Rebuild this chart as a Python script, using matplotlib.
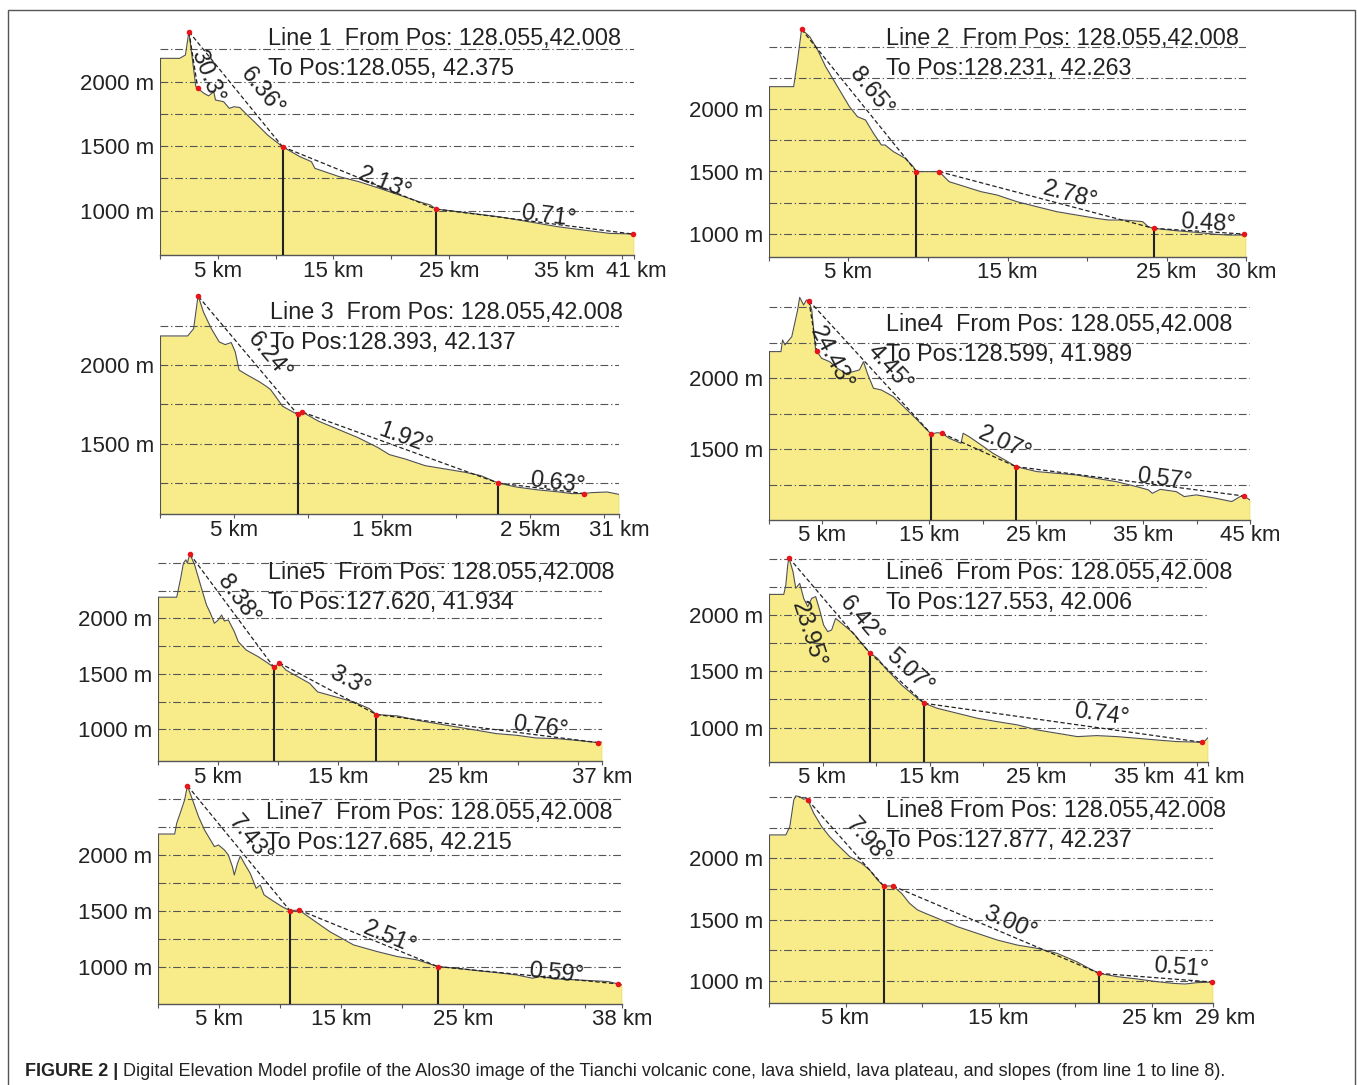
import numpy as np
import matplotlib
matplotlib.use("Agg")
import matplotlib.pyplot as plt
import matplotlib.transforms as mtransforms
from matplotlib.patches import Rectangle

plt.rcParams['font.family'] = ['Liberation Sans', 'DejaVu Sans']

W, H, DPI = 1357, 1085, 100

# ---------------- data (km, m) ----------------
# Line 1
line1_km = [0, 1.7, 2.2, 2.5, 3.1, 3.27, 3.8, 4.2, 4.65, 4.8, 5.5, 6.0, 6.4, 6.9, 7.4, 8.3, 9.3, 10.6,
            12.1, 13.1, 13.4, 14.0, 15.5, 17.2, 19.0, 20.7, 22.4, 23.4, 23.85, 25.8, 29.3, 31.0, 32.7,
            34.4, 36.2, 38.9, 41]
line1_m = [2181, 2181, 2207, 2388, 1961, 1948, 1910, 1890, 1922, 1858, 1845, 1793, 1806, 1800, 1755, 1677,
           1587, 1496, 1419, 1380, 1328, 1310, 1264, 1225, 1173, 1121, 1070, 1044, 1013, 992, 953, 928,
           902, 876, 855, 824, 819]
line1_pt_km = [2.5, 3.27, 10.6, 23.85, 40.9]
line1_pt_m = [2388, 1948, 1496, 1013, 819]
line1_segs = [(0, 1), (0, 2), (2, 3), (3, 4)]
line1_deg = ["30.3°", "6.36°", "2.13°", "0.71°"]
line1_deg_km = [4.03, 8.79, 19.47, 33.6]
line1_deg_m = [2044, 1922, 1212, 953]
line1_vl = [2, 3]
line1_xt = [5, 15, 25, 35, 41]
line1_xtl = ["5 km", "15 km", "25 km", "35 km", "41 km"]
line1_yt = [2000, 1500, 1000]

# Line 2
line2_km = [0, 1.55, 1.8, 2.05, 2.56, 3.06, 3.56, 4.31, 5.06, 5.56, 6.07, 6.57, 7.07, 7.3, 7.82, 8.57, 9.07,
            9.27, 10.7, 11.33, 12.33, 13.33, 14.34, 15.6, 16.84, 18.1, 19.35, 20.6, 21.35, 22.35, 23.5,
            23.86, 24.19, 25.6, 26.87, 28.1, 28.9, 30]
line2_m = [2182, 2182, 2397, 2643, 2584, 2477, 2343, 2182, 2021, 1941, 1914, 1807, 1713, 1713, 1660, 1606,
           1539, 1499, 1499, 1418, 1378, 1338, 1311, 1257, 1217, 1177, 1150, 1123, 1110, 1110, 1097, 1056,
           1043, 1024, 1011, 995, 989, 989]
line2_pt_km = [2.05, 9.27, 10.7, 24.19, 29.9]
line2_pt_m = [2643, 1499, 1499, 1043, 997]
line2_segs = [(0, 1), (2, 3), (3, 4)]
line2_deg = ["8.65°", "2.78°", "0.48°"]
line2_deg_km = [6.44, 18.97, 27.6]
line2_deg_m = [2142, 1311, 1083]
line2_vl = [1, 3]
line2_xt = [5, 15, 25, 30]
line2_xtl = ["5 km", "15 km", "25 km", "30 km"]
line2_yt = [2000, 1500, 1000]

# Line 3
line3_km = [0, 1.87, 2.27, 2.54, 2.59, 2.94, 3.47, 4.0, 4.4, 4.81, 5.08, 5.34, 5.88, 6.68, 7.2, 7.48, 7.88,
            8.28, 9.09, 9.3, 9.62, 10.69, 12.03, 13.36, 14.7, 15.5, 16.57, 17.9, 19.24, 20.58, 21.65,
            22.18, 22.85, 24.05, 25.39, 26.99, 27.8, 28.65, 29.13, 30.2, 31]
line3_m = [2185, 2185, 2231, 2420, 2437, 2336, 2231, 2147, 2130, 2143, 2084, 1968, 1937, 1895, 1863, 1842,
           1790, 1737, 1695, 1685, 1700, 1643, 1590, 1538, 1475, 1429, 1401, 1359, 1338, 1317, 1296, 1275,
           1248, 1223, 1206, 1191, 1181, 1181, 1187, 1191, 1176]
line3_pt_km = [2.59, 9.3, 9.62, 22.85, 28.65]
line3_pt_m = [2437, 1685, 1700, 1248, 1181]
line3_segs = [(0, 1), (2, 3), (3, 4)]
line3_deg = ["6.24°", "1.92°", "0.63°"]
line3_deg_km = [7.35, 16.57, 26.86]
line3_deg_m = [2053, 1527, 1244]
line3_vl = [1, 3]
line3_xt = [5, 15, 25, 31]
line3_xtl = ["5 km", "1 5km", "2 5km", "31 km"]
line3_yt = [2000, 1500]

# Line 4
line4_km = [0, 1.12, 1.27, 1.49, 2.13, 2.68, 2.87, 3.24, 3.5, 3.73, 4.0, 4.36, 4.47, 4.92, 5.67, 6.41,
            7.16, 7.9, 8.46, 8.84, 9.2, 9.77, 10.51, 11.63, 12.75, 13.87, 14.62, 15.18, 15.73, 16.18,
            16.85, 17.97, 18.16, 18.72, 19.84, 20.95, 22.07, 23.1, 25.05, 28.78, 32.5, 34.4, 35.5, 35.87,
            36.6, 38.1, 38.85, 39.97, 41.8, 43.3, 44.07, 44.44, 45]
line4_m = [2188, 2188, 2270, 2235, 2293, 2481, 2570, 2516, 2551, 2547, 2481, 2200, 2192, 2141, 2117, 2070,
           2035, 2047, 2059, 2117, 2035, 1930, 1918, 1871, 1789, 1707, 1648, 1608, 1617, 1613, 1578, 1542,
           1613, 1589, 1531, 1472, 1425, 1378, 1343, 1319, 1272, 1237, 1214, 1190, 1218, 1202, 1167, 1179,
           1155, 1132, 1167, 1171, 1143]
line4_pt_km = [3.73, 4.47, 15.18, 16.18, 23.1, 44.44]
line4_pt_m = [2547, 2192, 1608, 1613, 1378, 1171]
line4_segs = [(0, 1), (0, 2), (3, 4), (4, 5)]
line4_deg = ["24.43°", "4.45°", "2.07°", "0.57°"]
line4_deg_km = [5.85, 11.26, 22.07, 37.0]
line4_deg_m = [2141, 2070, 1538, 1284]
line4_vl = [2, 4]
line4_xt = [5, 15, 25, 35, 45]
line4_xtl = ["5 km", "15 km", "25 km", "35 km", "45 km"]
line4_yt = [2000, 1500]

# Line 5
line5_km = [0, 1.56, 1.89, 2.12, 2.32, 2.45, 2.65, 3.05, 3.54, 4.04, 4.37, 4.7, 5.03, 5.3, 5.53, 5.86,
            6.36, 6.69, 7.35, 8.35, 9.0, 9.67, 10.1, 10.67, 11.66, 12.65, 13.3, 14.3, 15.3, 16.3, 16.96,
            17.6, 18.2, 19.94, 21.6, 23.25, 24.9, 26.57, 28.2, 29.9, 31.5, 33.2, 34.8, 36.16, 36.67, 37]
line5_m = [2190, 2190, 2361, 2497, 2527, 2497, 2581, 2482, 2301, 2120, 2045, 1955, 1985, 2030, 1976, 1985,
           1880, 1789, 1714, 1654, 1608, 1557, 1599, 1533, 1473, 1413, 1337, 1307, 1277, 1247, 1217, 1187,
           1133, 1121, 1081, 1051, 1021, 991, 961, 946, 922, 916, 901, 886, 880, 886]
line5_pt_km = [2.65, 9.67, 10.1, 18.2, 36.67]
line5_pt_m = [2581, 1557, 1599, 1133, 880]
line5_segs = [(0, 1), (2, 3), (3, 4)]
line5_deg = ["8.38°", "3.3°", "0.76°"]
line5_deg_km = [6.69, 15.97, 31.86]
line5_deg_m = [2166, 1428, 1012]
line5_vl = [1, 3]
line5_xt = [5, 15, 25, 37]
line5_xtl = ["5 km", "15 km", "25 km", "37 km"]
line5_yt = [2000, 1500, 1000]

# Line 6
line6_km = [0, 1.38, 1.57, 1.75, 1.86, 2.24, 2.5, 2.87, 3.24, 3.62, 3.99, 4.36, 4.73, 5.1, 5.48, 5.85,
            6.22, 6.6, 7.16, 7.9, 8.65, 9.39, 10.14, 10.88, 11.63, 12.37, 13.12, 13.87, 14.5, 15.73, 17.6,
            19.46, 21.3, 23.2, 25.05, 26.9, 28.8, 30.6, 32.5, 34.4, 36.2, 38.1, 40.4, 40.7, 41]
line6_m = [2183, 2183, 2266, 2444, 2509, 2385, 2237, 2281, 2148, 2074, 2148, 2163, 2044, 1911, 1852, 1867,
           1970, 1941, 1896, 1837, 1748, 1666, 1615, 1527, 1453, 1379, 1319, 1260, 1216, 1171, 1127, 1083,
           1053, 1024, 979, 950, 920, 929, 920, 905, 890, 876, 870, 881, 911]
line6_pt_km = [1.86, 9.39, 14.5, 40.4]
line6_pt_m = [2509, 1666, 1216, 870]
line6_segs = [(0, 1), (1, 2), (2, 3)]
line6_deg = ["23.95°", "6.42°", "5.07°", "0.74°"]
line6_deg_km = [3.69, 8.65, 13.12, 31.0]
line6_deg_m = [1828, 1956, 1497, 1112]
line6_vl = [1, 2]
line6_xt = [5, 15, 25, 35, 41]
line6_xtl = ["5 km", "15 km", "25 km", "35 km", "41 km"]
line6_yt = [2000, 1500, 1000]

# Line 7
line7_km = [0, 1.37, 1.53, 1.86, 2.18, 2.41, 2.83, 3.32, 3.81, 4.3, 4.62, 4.95, 5.44, 5.76, 6.09, 6.25,
            6.51, 6.74, 7.07, 7.55, 8.04, 8.37, 8.69, 9.51, 10.16, 10.81, 11.56, 12.11, 13.09, 14.07, 15.04,
            16.02, 17.0, 17.97, 19.6, 21.23, 22.92, 24.49, 26.1, 27.74, 29.37, 30.67, 31.3, 32.6, 34.26,
            35.88, 36.86, 37.67, 38]
line7_m = [2188, 2188, 2284, 2388, 2493, 2621, 2493, 2343, 2224, 2134, 2075, 2090, 2045, 2000, 1896, 1821,
           1925, 1991, 1925, 1836, 1701, 1731, 1642, 1582, 1537, 1501, 1507, 1463, 1388, 1313, 1254, 1194,
           1164, 1134, 1090, 1060, 1000, 985, 964, 946, 925, 896, 910, 890, 881, 872, 866, 845, 836]
line7_pt_km = [2.41, 10.81, 11.56, 22.92, 37.67]
line7_pt_m = [2621, 1501, 1507, 1000, 845]
line7_segs = [(0, 1), (2, 3), (3, 4)]
line7_deg = ["7.43°", "2.51°", "0.59°"]
line7_deg_km = [7.55, 18.95, 32.63]
line7_deg_m = [2134, 1254, 940]
line7_vl = [1, 3]
line7_xt = [5, 15, 25, 38]
line7_xtl = ["5 km", "15 km", "25 km", "38 km"]
line7_yt = [2000, 1500, 1000]

# Line 8
line8_km = [0, 1.1, 1.36, 1.62, 1.75, 2.0, 2.27, 2.45, 2.53, 2.92, 3.44, 3.96, 4.49, 5.27, 6.05, 6.57,
            7.09, 7.49, 8.09, 8.66, 9.18, 9.7, 10.22, 11.0, 12.31, 13.6, 14.92, 16.22, 17.53, 18.83, 20.1,
            20.9, 21.57, 22.74, 24.05, 25.35, 26.4, 27.18, 27.96, 28.95, 29]
line8_m = [2191, 2191, 2259, 2477, 2510, 2504, 2482, 2490, 2477, 2368, 2259, 2177, 2109, 2014, 1959, 1905,
           1823, 1774, 1774, 1714, 1632, 1578, 1550, 1510, 1441, 1387, 1332, 1291, 1264, 1223, 1155, 1101,
           1060, 1033, 1014, 992, 978, 973, 984, 989, 989]
line8_pt_km = [2.53, 7.49, 8.09, 21.57, 28.95]
line8_pt_m = [2477, 1774, 1774, 1060, 989]
line8_segs = [(0, 1), (2, 3), (3, 4)]
line8_deg = ["7.98°", "3.00°", "0.51°"]
line8_deg_km = [6.44, 15.7, 26.92]
line8_deg_m = [2136, 1469, 1101]
line8_vl = [1, 3]
line8_xt = [5, 15, 25, 29]
line8_xtl = ["5 km", "15 km", "25 km", "29 km"]
line8_yt = [2000, 1500, 1000]

titles = [
    ("Line 1  From Pos: 128.055,42.008", "To Pos:128.055, 42.375"),
    ("Line 2  From Pos: 128.055,42.008", "To Pos:128.231, 42.263"),
    ("Line 3  From Pos: 128.055,42.008", "To Pos:128.393, 42.137"),
    ("Line4  From Pos: 128.055,42.008", "To Pos:128.599, 41.989"),
    ("Line5  From Pos: 128.055,42.008", "To Pos:127.620, 41.934"),
    ("Line6  From Pos: 128.055,42.008", "To Pos:127.553, 42.006"),
    ("Line7  From Pos: 128.055,42.008", "To Pos:127.685, 42.215"),
    ("Line8 From Pos: 128.055,42.008", "To Pos:127.877, 42.237"),
]
caption_bold = "FIGURE 2 |"
caption_text = (" Digital Elevation Model profile of the Alos30 image of the Tianchi volcanic cone, "
                "lava shield, lava plateau, and slopes (from line 1 to line 8).")

lines = [
    dict(km=line1_km, m=line1_m, pk=line1_pt_km, pm=line1_pt_m, segs=line1_segs, deg=line1_deg,
         dk=line1_deg_km, dm=line1_deg_m, vl=line1_vl, xt=line1_xt, xtl=line1_xtl, yt=line1_yt),
    dict(km=line2_km, m=line2_m, pk=line2_pt_km, pm=line2_pt_m, segs=line2_segs, deg=line2_deg,
         dk=line2_deg_km, dm=line2_deg_m, vl=line2_vl, xt=line2_xt, xtl=line2_xtl, yt=line2_yt),
    dict(km=line3_km, m=line3_m, pk=line3_pt_km, pm=line3_pt_m, segs=line3_segs, deg=line3_deg,
         dk=line3_deg_km, dm=line3_deg_m, vl=line3_vl, xt=line3_xt, xtl=line3_xtl, yt=line3_yt),
    dict(km=line4_km, m=line4_m, pk=line4_pt_km, pm=line4_pt_m, segs=line4_segs, deg=line4_deg,
         dk=line4_deg_km, dm=line4_deg_m, vl=line4_vl, xt=line4_xt, xtl=line4_xtl, yt=line4_yt),
    dict(km=line5_km, m=line5_m, pk=line5_pt_km, pm=line5_pt_m, segs=line5_segs, deg=line5_deg,
         dk=line5_deg_km, dm=line5_deg_m, vl=line5_vl, xt=line5_xt, xtl=line5_xtl, yt=line5_yt),
    dict(km=line6_km, m=line6_m, pk=line6_pt_km, pm=line6_pt_m, segs=line6_segs, deg=line6_deg,
         dk=line6_deg_km, dm=line6_deg_m, vl=line6_vl, xt=line6_xt, xtl=line6_xtl, yt=line6_yt),
    dict(km=line7_km, m=line7_m, pk=line7_pt_km, pm=line7_pt_m, segs=line7_segs, deg=line7_deg,
         dk=line7_deg_km, dm=line7_deg_m, vl=line7_vl, xt=line7_xt, xtl=line7_xtl, yt=line7_yt),
    dict(km=line8_km, m=line8_m, pk=line8_pt_km, pm=line8_pt_m, segs=line8_segs, deg=line8_deg,
         dk=line8_deg_km, dm=line8_deg_m, vl=line8_vl, xt=line8_xt, xtl=line8_xtl, yt=line8_yt),
]

# layout in pixels: left, right, y of 2000 m, px per 500 m, ymin, ymax, title x, title y
layout = [
    (160, 634, 81.7, 64.5, 655, 2420, 268, 38),
    (769, 1246, 109.3, 62.2, 815, 2680, 886, 38),
    (160, 619, 365.0, 78.5, 1050, 2470, 270, 312),
    (769, 1250, 378.3, 71.0, 1005, 2600, 886, 324),
    (158, 602, 618.3, 55.5, 711, 2610, 268, 573),
    (769, 1208, 615.0, 56.3, 698, 2540, 886, 572),
    (158, 622, 855.0, 55.8, 666, 2650, 266, 812),
    (769, 1213, 858.3, 61.2, 820, 2540, 886, 811),
]
# last x label nudged right (px), as in the original
last_shift = [2, 0, 0, 0, 0, 6, 0, 12]
# text angle overrides (screen degrees) for labels without a dashed guide
rot_override = {(0, 0): -68, (3, 0): -62, (5, 0): -72}

FILL = "#f8ec8a"
GRID = "#555555"
EDGE = "#505050"
FS = 16

fig = plt.figure(figsize=(W / DPI, H / DPI), dpi=DPI)
fig.patches.append(Rectangle((8 / W, -0.01), (1355 - 8) / W, 1 - 10 / H + 0.01,
                             transform=fig.transFigure, fill=False, ec="#555555", lw=1.0))

for i, (d, lay) in enumerate(zip(lines, layout)):
    left, right, y2k, pp, ymin, ymax, tx, ty = lay
    top = y2k - (ymax - 2000) / 500 * pp
    bot = y2k + (2000 - ymin) / 500 * pp
    ax = fig.add_axes([left / W, 1 - bot / H, (right - left) / W, (bot - top) / H])
    ax.patch.set_alpha(0)
    xmax = d["km"][-1]
    ax.set_xlim(0, xmax)
    ax.set_ylim(ymin, ymax)

    km = np.array(d["km"])
    m = np.array(d["m"])
    ax.fill_between(km, ymin, m, color=FILL, lw=0, zorder=1)
    ax.plot(km, m, color=EDGE, lw=0.8, zorder=3)
    ax.plot([0, 0], [ymin, m[0]], color=EDGE, lw=0.8, zorder=3)
    ax.plot([xmax, xmax], [ymin, m[-1]], color=EDGE, lw=0.8, zorder=3)

    # dash-dot grid every 250 m (1000 m and above)
    for g in np.arange(1000, 3000, 250):
        if ymin < g < ymax:
            ax.axhline(g, color=GRID, lw=0.8, ls=(0, (7, 2.5, 1.2, 2.5)), zorder=2)

    pk, pm = d["pk"], d["pm"]
    for j in d["vl"]:
        ax.plot([pk[j], pk[j]], [ymin, pm[j]], color="#222222", lw=1.5, zorder=4)
    for a, b in d["segs"]:
        ax.plot([pk[a], pk[b]], [pm[a], pm[b]], color="#222222", lw=0.9,
                ls=(0, (3.5, 2)), zorder=5)
    ax.plot(pk, pm, "o", color="#e8141b", ms=4, mec="none", zorder=6, clip_on=False)

    # slope labels
    seg_iter = list(d["segs"])
    if len(d["deg"]) > len(seg_iter):
        seg_iter = [None] + seg_iter
    for k, (lab, lx, ly) in enumerate(zip(d["deg"], d["dk"], d["dm"])):
        if (i, k) in rot_override:
            rot = rot_override[(i, k)]
        else:
            a, b = seg_iter[k]
            p1 = ax.transData.transform((pk[a], pm[a]))
            p2 = ax.transData.transform((pk[b], pm[b]))
            rot = np.degrees(np.arctan2(p2[1] - p1[1], p2[0] - p1[0]))
        ax.text(lx, ly, lab, fontsize=17, rotation=rot, rotation_mode="anchor",
                ha="center", va="center", color="#222222", zorder=7)

    # axes
    for s in ["left", "top", "right"]:
        ax.spines[s].set_visible(False)
    ax.spines["bottom"].set_color("#555555")
    ax.spines["bottom"].set_linewidth(1.0)
    ticks = list(range(0, int(np.ceil(xmax)), 5))
    if ticks[-1] != xmax:
        ticks.append(xmax)
    lab_map = dict(zip(d["xt"], d["xtl"]))
    ax.set_xticks(ticks)
    ax.set_xticklabels([lab_map.get(t, "") for t in ticks])
    ax.tick_params(axis="x", direction="out", length=3, width=0.8, color="#555555",
                   labelsize=FS, labelcolor="#222222", pad=1)
    last = ax.get_xticklabels()[-1]
    last.set_transform(last.get_transform() +
                       mtransforms.ScaledTranslation(last_shift[i] / DPI, 0, fig.dpi_scale_trans))
    ax.set_yticks(d["yt"])
    ax.set_yticklabels([f"{v} m" for v in d["yt"]])
    ax.tick_params(axis="y", length=0, labelsize=FS, labelcolor="#222222", pad=4)

    t1, t2 = titles[i]
    fig.text(tx / W, 1 - ty / H, t1, fontsize=16.8, color="#222222", va="center", ha="left")
    fig.text(tx / W, 1 - (ty + 30) / H, t2, fontsize=16.8, color="#222222", va="center", ha="left")

# caption
cb = fig.text(25 / W, 1 - 1072 / H, caption_bold, fontsize=13, fontweight="bold",
              color="#222222", va="center", ha="left")
fig.canvas.draw()
bb = cb.get_window_extent()
fig.text(bb.x1 / W, 1 - 1072 / H, caption_text, fontsize=13, color="#222222",
         va="center", ha="left")

fig.savefig("out.png", dpi=DPI)
